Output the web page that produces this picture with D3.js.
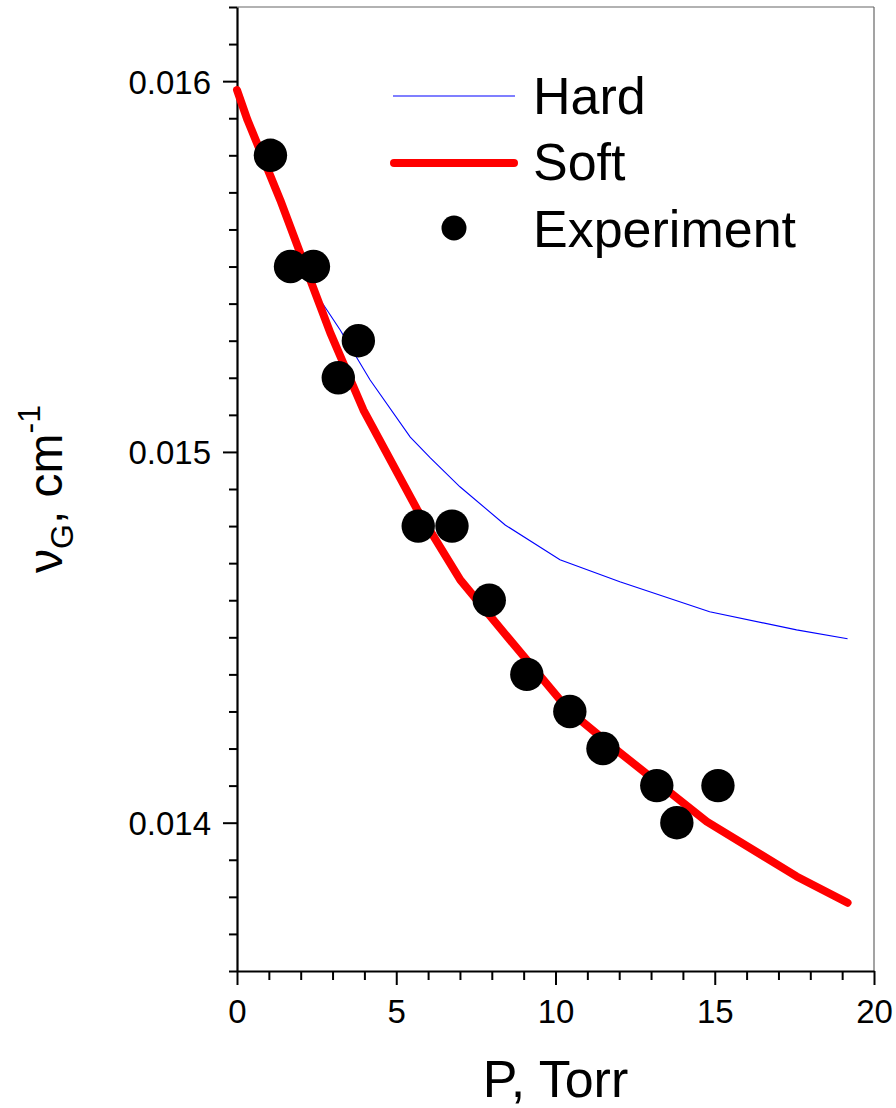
<!DOCTYPE html>
<html>
<head>
<meta charset="utf-8">
<script src="https://cdn.jsdelivr.net/npm/d3@7"></script>
<style>
  body { margin: 0; background: #fff; }
  text { font-family: "Liberation Sans", Arial, sans-serif; fill: #000; }
</style>
</head>
<body>
<div id="chart"></div>
<script>
// experiment points
const expP = [1.05, 1.68, 2.40, 3.18, 3.81, 5.69, 6.75, 7.92, 9.10, 10.45, 11.49, 13.18, 13.81, 15.10];
const expV = [0.0158, 0.0155, 0.0155, 0.0152, 0.0153, 0.0148, 0.0148, 0.0146, 0.0144, 0.0143, 0.0142, 0.0141, 0.0140, 0.0141];

// soft model curve
const softP = [0, 0.33, 1.36, 2.30, 2.93, 3.97, 5.66, 7.01, 8.57, 10.45, 12.02, 14.75, 17.57, 19.17];
const softV = [0.015976, 0.015895, 0.015679, 0.015464, 0.015321, 0.015113, 0.014844, 0.014655, 0.014493, 0.014300, 0.014189, 0.014003, 0.013855, 0.013784];

// hard model curve
const hardP = [0, 0.33, 1.36, 2.30, 2.46, 3.24, 4.18, 5.44, 6.07, 7.00, 8.42, 10.14, 12.02, 14.84, 17.57, 19.17];
const hardV = [0.015976, 0.015895, 0.015679, 0.015464, 0.015430, 0.015329, 0.015194, 0.015040, 0.014984, 0.014906, 0.014803, 0.014709, 0.014650, 0.014569, 0.014520, 0.014496];

const xMajor = [0, 5, 10, 15, 20];
const yMajor = [0.014, 0.015, 0.016];

const W = 896, H = 1108;
let margin = {top: 7, right: 22, bottom: 137, left: 237};
let width = W - margin.left - margin.right,
    height = H - margin.top - margin.bottom;

let svg = d3.select("#chart").append("svg")
    .attr("width", W).attr("height", H);
let g = svg.append("g")
    .attr("transform", "translate(" + margin.left + "," + margin.top + ")");

let x = d3.scaleLinear().domain([0, 20]).range([0, width]);
let y = d3.scaleLinear().domain([0.0136, 0.0162]).range([height, 0]);

// frame: top and right thin grey
g.append("line").attr("x1", 0).attr("x2", width).attr("y1", 0).attr("y2", 0)
  .attr("stroke", "#666").attr("stroke-width", 1.2);
g.append("line").attr("x1", width).attr("x2", width).attr("y1", 0).attr("y2", height)
  .attr("stroke", "#666").attr("stroke-width", 1.2);

// minor ticks
let xMinor = d3.range(0, 21, 1).filter(v => xMajor.indexOf(v) < 0);
let yMinor = d3.range(136, 163, 1).map(v => v / 10000).filter(v => !yMajor.some(m => Math.abs(m - v) < 1e-9));

g.append("g").attr("transform", "translate(0," + height + ")")
  .call(d3.axisBottom(x).tickValues(xMinor).tickSize(9).tickFormat(""))
  .call(a => a.select(".domain").remove())
  .selectAll("line").attr("stroke-width", 2);
g.append("g")
  .call(d3.axisLeft(y).tickValues(yMinor).tickSize(8).tickFormat(""))
  .call(a => a.select(".domain").remove())
  .selectAll("line").attr("stroke-width", 2);

// major axes
let xAxis = g.append("g").attr("transform", "translate(0," + height + ")")
  .call(d3.axisBottom(x).tickValues(xMajor).tickSize(14).tickSizeOuter(0).tickPadding(15).tickFormat(d3.format("d")));
let yAxis = g.append("g")
  .call(d3.axisLeft(y).tickValues(yMajor).tickSize(14).tickSizeOuter(0).tickPadding(12).tickFormat(d3.format(".3f")));
[xAxis, yAxis].forEach(a => {
  a.select(".domain").attr("stroke-width", 2.2);
  a.selectAll(".tick line").attr("stroke-width", 2);
  a.selectAll(".tick text").style("font-size", "33px")
    .style("font-family", "'Liberation Sans', Arial, sans-serif").attr("fill", "#000");
});
yAxis.selectAll(".tick text").attr("dy", "0.36em");

// curves
let line = d3.line().x(d => x(d[0])).y(d => y(d[1]));
g.append("path")
  .datum(hardP.map((p, i) => [p, hardV[i]]))
  .attr("d", line).attr("fill", "none")
  .attr("stroke", "#0000ff").attr("stroke-width", 1.1);
g.append("path")
  .datum(softP.map((p, i) => [p, softV[i]]))
  .attr("d", line).attr("fill", "none")
  .attr("stroke", "#ff0000").attr("stroke-width", 8)
  .attr("stroke-linejoin", "round").attr("stroke-linecap", "round");

// points
g.selectAll("circle.exp")
  .data(expP.map((p, i) => [p, expV[i]]))
  .enter().append("circle")
  .attr("class", "exp")
  .attr("cx", d => x(d[0])).attr("cy", d => y(d[1]))
  .attr("r", 16.7).attr("fill", "#000");

// legend
let leg = svg.append("g");
leg.append("line").attr("x1", 393).attr("x2", 515).attr("y1", 96).attr("y2", 96)
  .attr("stroke", "#0000ff").attr("stroke-width", 1.1);
leg.append("line").attr("x1", 394).attr("x2", 514).attr("y1", 163).attr("y2", 163)
  .attr("stroke", "#ff0000").attr("stroke-width", 8).attr("stroke-linecap", "round");
leg.append("circle").attr("cx", 454).attr("cy", 228).attr("r", 12.5).attr("fill", "#000");
[["Hard", 114], ["Soft", 180], ["Experiment", 247]].forEach(t => {
  leg.append("text").attr("x", 533).attr("y", t[1]).text(t[0]).style("font-size", "52px");
});

// axis titles
svg.append("text")
  .attr("x", margin.left + width / 2).attr("y", 1097)
  .attr("text-anchor", "middle").style("font-size", "52px")
  .text("P, Torr");

let yt = svg.append("text")
  .attr("transform", "translate(62," + (margin.top + height / 2) + ") rotate(-90)")
  .attr("text-anchor", "middle").style("font-size", "48px");
yt.append("tspan").text("\u03BD");
yt.append("tspan").attr("dy", 11).style("font-size", "32px").text("G");
yt.append("tspan").attr("dy", -11).text(", cm");
yt.append("tspan").attr("dy", -22).style("font-size", "32px").text("-1");
</script>
</body>
</html>
